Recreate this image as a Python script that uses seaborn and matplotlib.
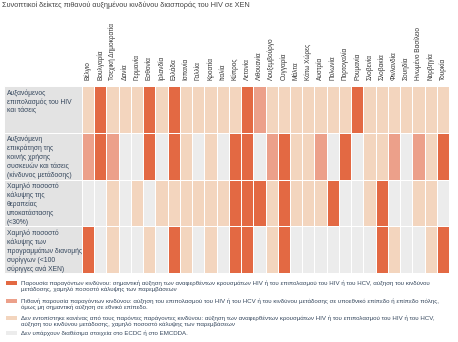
import numpy as np
import pandas as pd
import matplotlib
matplotlib.use("Agg")
import matplotlib.pyplot as plt
from matplotlib.colors import ListedColormap
from matplotlib.patches import Rectangle
import seaborn as sns

# Countries (columns of the grid)
countries = [
    "Βέλγιο", "Βουλγαρία", "Τσεχική Δημοκρατία", "Δανία", "Γερμανία", "Εσθονία",
    "Ιρλανδία", "Ελλάδα", "Ισπανία", "Γαλλία", "Κροατία", "Ιταλία", "Κύπρος",
    "Λετονία", "Λιθουανία", "Λουξεμβούργο", "Ουγγαρία", "Μάλτα", "Κάτω Χώρες",
    "Αυστρία", "Πολωνία", "Πορτογαλία", "Ρουμανία", "Σλοβενία", "Σλοβακία",
    "Φινλανδία", "Σουηδία", "Ηνωμένο Βασίλειο", "Νορβηγία", "Τουρκία",
]

# Indicator labels (rows of the grid)
indicators = [
    "Αυξανόμενος\nεπιπολασμός του HIV\nκαι τάσεις",
    "Αυξανόμενη\nεπικράτηση της\nκοινής χρήσης\nσυσκευών και τάσεις\n(κίνδυνος μετάδοσης)",
    "Χαμηλό ποσοστό\nκάλυψης της\nθεραπείας\nυποκατάστασης\n(<30%)",
    "Χαμηλό ποσοστό\nκάλυψης των\nπρογραμμάτων διανομής\nσυρίγγων (<100\nσύριγγες ανά ΧΕΝ)",
]

# Status codes: 3 = risk present, 2 = possible risk, 1 = no risk factor, 0 = no data
prevalence = [1, 3, 1, 1, 1, 3, 1, 3, 1, 1, 1, 1, 1, 3, 2, 1, 1, 1, 1, 1, 1, 1, 3, 1, 1, 1, 1, 1, 1, 1]
sharing    = [2, 3, 2, 0, 0, 3, 0, 3, 1, 0, 1, 0, 3, 3, 0, 2, 3, 1, 1, 2, 0, 3, 0, 1, 1, 2, 0, 2, 1, 3]
ost_cover  = [0, 0, 1, 0, 1, 0, 1, 1, 1, 1, 1, 1, 3, 3, 3, 1, 3, 1, 1, 1, 3, 0, 0, 1, 3, 0, 0, 1, 1, 0]
nsp_cover  = [3, 0, 1, 0, 0, 1, 0, 3, 1, 0, 1, 0, 3, 3, 0, 1, 3, 0, 0, 0, 0, 0, 0, 0, 3, 1, 0, 0, 1, 3]

legend_texts = [
    "Παρουσία παραγόντων κινδύνου: σημαντική αύξηση των αναφερθέντων κρουσμάτων HIV ή του επιπολασμού του HIV ή του HCV, αύξηση του κινδύνου\n"
    "μετάδοσης, χαμηλό ποσοστό κάλυψης των παρεμβάσεων",
    "Πιθανή παρουσία παραγόντων κινδύνου: αύξηση του επιπολασμού του HIV ή του HCV ή του κινδύνου μετάδοσης σε υποεθνικό επίπεδο ή επίπεδο πόλης,\n"
    "όμως μη σημαντική αύξηση σε εθνικό επίπεδο.",
    "Δεν εντοπίστηκε κανένας από τους παρόντες παράγοντες κινδύνου: αύξηση των αναφερθέντων κρουσμάτων HIV ή του επιπολασμού του HIV ή του HCV,\n"
    "αύξηση του κινδύνου μετάδοσης, χαμηλό ποσοστό κάλυψης των παρεμβάσεων",
    "Δεν υπάρχουν διαθέσιμα στοιχεία στο ECDC ή στο EMCDDA.",
]

title = "Συνοπτικοί δείκτες πιθανού αυξημένου κινδύνου διασποράς του HIV σε ΧΕΝ"

GREY, LIGHT, MEDIUM, DARK = "#ECECEC", "#F3D5BE", "#ECA08A", "#E36943"
palette = [GREY, LIGHT, MEDIUM, DARK]
cmap = ListedColormap(palette)

df = pd.DataFrame([prevalence, sharing, ost_cover, nsp_cover],
                  index=indicators, columns=countries)

sns.set_theme(style="white")
plt.rcParams["font.family"] = ["Liberation Sans", "DejaVu Sans"]

W, H = 458, 342
fig = plt.figure(figsize=(W / 100, H / 100), dpi=100)
fig.patch.set_facecolor("white")


def fx(px):
    return px / W


def fy(py):
    return 1 - py / H


grid_left, grid_right, grid_top, grid_bottom = 82, 449, 86, 273
ax = fig.add_axes([fx(grid_left), fy(grid_bottom),
                   (grid_right - grid_left) / W, (grid_bottom - grid_top) / H])
sns.heatmap(df, ax=ax, cmap=cmap, vmin=-0.5, vmax=3.5, cbar=False,
            linewidths=0.7, linecolor="white",
            xticklabels=countries, yticklabels=False)
ax.xaxis.tick_top()
ax.set_xticklabels(countries, rotation=90, fontsize=4.7, color="#333333",
                   va="bottom", ha="center")
ax.tick_params(axis="x", length=0, pad=4)
ax.set_xlabel("")
ax.set_ylabel("")

# Row-label panel on the left
TXT = "#34465c"
row_h = (grid_bottom - grid_top) / len(indicators)
for i, lab in enumerate(indicators):
    top = grid_top + i * row_h
    fig.patches.append(Rectangle((fx(4), fy(top + row_h)), (grid_left - 4) / W, row_h / H,
                                 transform=fig.transFigure, facecolor="#E3E3E3",
                                 edgecolor="white", linewidth=0.7, zorder=0))
    fig.text(fx(7), fy(top + 3), lab, ha="left", va="top", fontsize=4.85,
             color=TXT, linespacing=1.3)

# Title
fig.text(fx(2), fy(5), title, ha="left", va="center", fontsize=5.3, color="#444444")

# Legend
legend_rows = [281, 299, 316, 331]
for color, txt, y in zip([DARK, MEDIUM, LIGHT, GREY], legend_texts, legend_rows):
    fig.patches.append(Rectangle((fx(6), fy(y + 4)), 11 / W, 4 / H,
                                 transform=fig.transFigure, facecolor=color,
                                 edgecolor="none"))
    fig.text(fx(21), fy(y - 0.5), txt, ha="left", va="top", fontsize=4.4,
             color=TXT, linespacing=1.15)

fig.savefig("out.png", dpi=100, facecolor="white")
